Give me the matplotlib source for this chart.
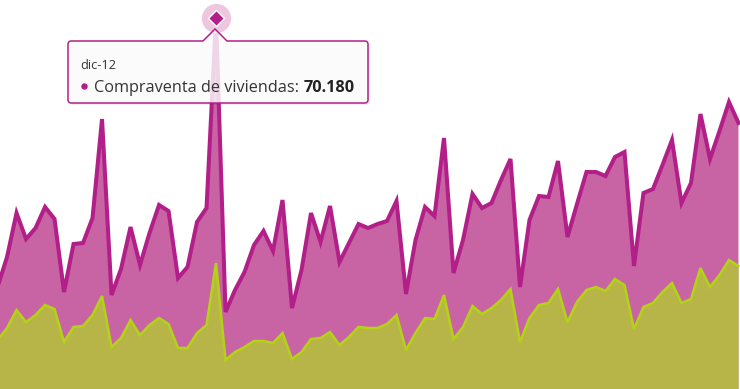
import matplotlib
matplotlib.use("Agg")
import matplotlib.pyplot as plt
from matplotlib.patches import Polygon, Circle
import numpy as np

# ---- data (monthly, ene-11 .. jul-17) ----
meses = ["ene", "feb", "mar", "abr", "may", "jun", "jul", "ago", "sep", "oct", "nov", "dic"]
labels = [f"{m}-{y:02d}" for y in range(11, 18) for m in meses][:79]

compraventa = [19300, 24970, 33290, 28370, 30450, 34430, 32160, 18350, 27430, 27620, 32350, 51070,
               17780, 22700, 30640, 23460, 29510, 34810, 33670, 21000, 23080, 31590, 34240, 70180,
               14570, 18730, 22130, 27240, 29890, 26100, 35750, 15320, 22510, 33290, 27810, 34620,
               24020, 27620, 31210, 30450, 31210, 31780, 35560, 17970, 28180, 34430, 32720, 47480,
               21940, 28180, 36890, 34240, 35180, 39530, 43510, 19290, 31970, 36510, 36320, 43130,
               28750, 34990, 41050, 41050, 40290, 43890, 44830, 23270, 37080, 37830, 42370, 47100,
               35180, 38970, 52020, 43510, 48800, 54290, 50320]
serie2 = [9270, 11540, 14940, 12670, 14000, 15890, 15130, 8890, 11730, 11920, 14000, 17590,
          7940, 9650, 13050, 10210, 12110, 13430, 12300, 7760, 7760, 10590, 12110, 23830,
          5490, 7000, 7940, 9080, 9080, 8700, 10590, 5670, 7000, 9460, 9650, 10780,
          8320, 9840, 11730, 11540, 11540, 12300, 14000, 7380, 10590, 13430, 13240, 17780,
          9460, 11730, 15700, 14190, 15320, 16840, 18920, 8890, 13430, 15890, 16270, 18920,
          12670, 16460, 18730, 19290, 18540, 20810, 19670, 11350, 15510, 16270, 18350, 20050,
          16270, 17020, 22890, 19290, 21560, 24400, 23270]

hover_idx = labels.index("dic-12")
serie_name = "Compraventa de viviendas"

MAG_LINE = "#b31f88"
MAG_FILL = "#c964a4"
GRN_LINE = "#b3d414"
GRN_FILL = "#b8b548"

plt.rcParams['font.family'] = ['Open Sans', 'Noto Sans', 'DejaVu Sans']

fig = plt.figure(figsize=(7.4, 3.89), dpi=100)
ax = fig.add_axes([0, 0, 1, 1])
x = np.arange(len(labels))

ax.fill_between(x, 0, compraventa, color=MAG_FILL, lw=0, zorder=1)
ax.plot(x, compraventa, color=MAG_LINE, lw=2.9, solid_joinstyle='miter', zorder=2)
ax.fill_between(x, 0, serie2, color=GRN_FILL, lw=0, zorder=3)
ax.plot(x, serie2, color=GRN_LINE, lw=1.8, solid_joinstyle='miter', zorder=4)

ax.set_xlim(0.26, 78.16)
ax.set_ylim(0, 73590)
ax.axis('off')

# ---- overlay in pixel coordinates for the tooltip ----
ov = fig.add_axes([0, 0, 1, 1], facecolor='none')
ov.set_xlim(0, 740)
ov.set_ylim(389, 0)
ov.axis('off')


def tooltip_outline(x0, y0, w, h, r, nx, nw, nh):
    pts = []
    def arc(cx, cy, a0, a1):
        for a in np.linspace(a0, a1, 6):
            pts.append((cx + r * np.cos(a), cy + r * np.sin(a)))
    arc(x0 + r, y0 + r, np.pi, 1.5 * np.pi)
    pts += [(nx - nw / 2, y0), (nx, y0 - nh), (nx + nw / 2, y0)]
    arc(x0 + w - r, y0 + r, 1.5 * np.pi, 2 * np.pi)
    arc(x0 + w - r, y0 + h - r, 0, 0.5 * np.pi)
    arc(x0 + r, y0 + h - r, 0.5 * np.pi, np.pi)
    return pts


shadow = Polygon(tooltip_outline(70, 43, 300, 62, 3, 217, 24, 12), closed=True,
                 fc=(0, 0, 0, 0.07), ec='none', zorder=9)
ov.add_patch(shadow)
box = Polygon(tooltip_outline(68, 41, 300, 62, 3, 215, 24, 12), closed=True,
              fc=(1, 1, 1, 0.82), ec=MAG_LINE, lw=1.1, zorder=10, joinstyle='miter')
ov.add_patch(box)

ov.text(80, 69, labels[hover_idx], fontsize=9.2, color='#333333', zorder=12, va='baseline')
ov.add_patch(Circle((84.5, 86.5), 3.2, fc=MAG_LINE, ec='none', zorder=12))
t1 = ov.text(94, 92, f"{serie_name}: ", fontsize=11.7, color='#333333', zorder=12, va='baseline')
val = f"{compraventa[hover_idx]:,}".replace(",", ".")
ov.annotate(val, xy=(1, 0), xycoords=t1, va='bottom', ha='left', fontsize=11.7,
            fontweight='bold', color='#222222', zorder=12)

# halo + diamond marker at hovered point
ax.plot([hover_idx], [compraventa[hover_idx]], marker='o', ms=21, color='#eec6df',
        mec='none', zorder=14, clip_on=False)
ax.plot([hover_idx], [compraventa[hover_idx]], marker='D', ms=8.5, color=MAG_LINE,
        mec='white', mew=1, zorder=15, clip_on=False)

fig.savefig("out.png", dpi=100)
